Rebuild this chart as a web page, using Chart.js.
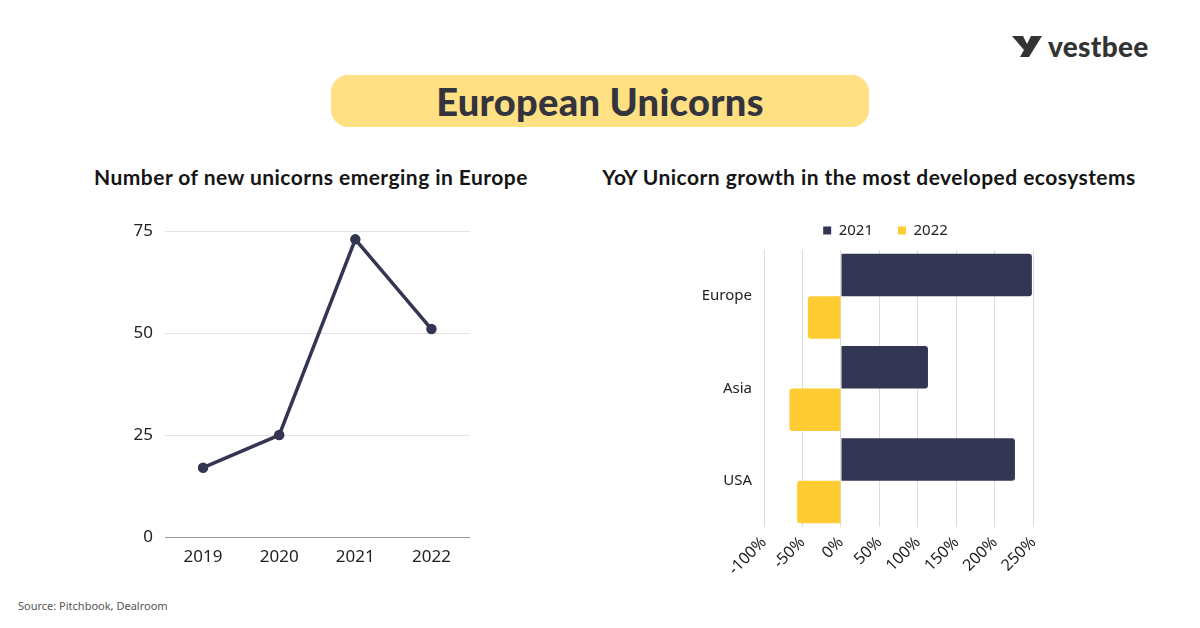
<!DOCTYPE html>
<html>
<head>
<meta charset="utf-8">
<script src="https://cdn.jsdelivr.net/npm/chart.js@4"></script>
<style>
  body { margin: 0; width: 1200px; height: 628px; background: #fff; position: relative; overflow: hidden; font-family: Lato, sans-serif; }
  .title-box { position: absolute; left: 331px; top: 75px; width: 538px; height: 52px; background: #ffe083; border-radius: 17px;
    display: flex; align-items: center; justify-content: center; font-weight: 900; font-size: 38px; letter-spacing: 0.3px; color: #33343d; }
  .sub { position: absolute; top: 164px; font-weight: 700; font-size: 21px; letter-spacing: 0.45px; color: #151515; text-align: center; white-space: nowrap; }
  .logo { position: absolute; left: 1012px; top: 29px; display: flex; align-items: center; color: #333; }
  .logo span { font-weight: 900; font-size: 28px; margin-left: 6px; letter-spacing: 0.3px; }
  .source { position: absolute; left: 18px; top: 598px; font-size: 11px; color: #555; font-family: "Noto Sans", sans-serif; }
  .box { position: absolute; }
</style>
</head>
<body>
<div class="logo">
  <svg width="30" height="22" viewBox="0 0 30 22"><polygon points="0,1 11,1 15,9 19,1 30,1 17,22 8,22 12,15" fill="#333"/></svg>
  <span>vestbee</span>
</div>
<div class="title-box">European Unicorns</div>
<div class="sub" style="left:61px;width:500px;">Number of new unicorns emerging in Europe</div>
<div class="sub" style="left:569px;width:600px;">YoY Unicorn growth in the most developed ecosystems</div>

<div class="box" style="left:120px;top:209px;width:357px;height:363px;"><canvas id="line-chart"></canvas></div>
<div class="box" style="left:680px;top:200px;width:373px;height:385px;"><canvas id="bar-chart"></canvas></div>

<div class="source">Source: Pitchbook, Dealroom</div>

<script>
'use strict';

// ******** DATA *******
let years = ['2019', '2020', '2021', '2022'];
let newUnicorns = [17, 25, 73, 51];
let lineTicks = [0, 25, 50, 75];

let regions = ['Europe', 'Asia', 'USA'];
let growth2021 = [248, 113, 226];
let growth2022 = [-43, -67, -57];
let growthTicks = [-100, -50, 0, 50, 100, 150, 200, 250];

// colours
let navy = '#333652';
let yellow = '#ffcc33';
let tickFont = { family: 'Noto Sans', size: 16 };

// ******** LINE CHART *******
let lineCtx = document.getElementById('line-chart');
new Chart(lineCtx, {
  type: 'line',
  data: {
    labels: years,
    datasets: [{
      data: newUnicorns,
      borderColor: navy,
      backgroundColor: navy,
      borderWidth: 3.5,
      pointRadius: 3.5,
      tension: 0
    }]
  },
  options: {
    responsive: true,
    maintainAspectRatio: false,
    animation: false,
    plugins: { legend: { display: false }, tooltip: { enabled: false } },
    scales: {
      x: {
        offset: true,
        grid: { display: false },
        border: { color: '#999', width: 1 },
        ticks: { color: '#222', font: { family: 'Noto Sans', size: 17 }, padding: 2 },
        afterFit: function(scale) { scale.height = 35; }
      },
      y: {
        min: 0,
        max: 75,
        afterBuildTicks: function(scale) { scale.ticks = lineTicks.map(v => ({ value: v })); },
        grid: { color: '#e3e3e3', drawTicks: false },
        border: { display: false },
        ticks: { color: '#222', font: { family: 'Noto Sans', size: 17 }, padding: 12 },
        afterFit: function(scale) { scale.width = 45; }
      }
    }
  }
});

// ******** BAR CHART *******

// nudges the legend to the right so it sits over the plot like the original
let legendShift = {
  id: 'legendShift',
  afterLayout: function(chart) {
    chart.legend.left += 28;
    chart.legend.right += 28;
    chart.legend.top -= 2;
    chart.legend.bottom -= 2;
  }
};

let barCtx = document.getElementById('bar-chart');
new Chart(barCtx, {
  type: 'bar',
  data: {
    labels: regions,
    datasets: [{
      label: '2021',
      data: growth2021,
      backgroundColor: navy,
      borderRadius: 3,
      categoryPercentage: 0.92,
      barPercentage: 1
    },
    {
      label: '2022',
      data: growth2022,
      backgroundColor: yellow,
      borderRadius: 3,
      categoryPercentage: 0.92,
      barPercentage: 1
    }]
  },
  options: {
    indexAxis: 'y',
    responsive: true,
    maintainAspectRatio: false,
    animation: false,
    layout: { padding: { right: 18 } },
    plugins: {
      tooltip: { enabled: false },
      legend: {
        position: 'top',
        labels: {
          usePointStyle: true,
          pointStyle: 'rect',
          boxWidth: 8,
          boxHeight: 8,
          padding: 25,
          color: '#222',
          font: { family: 'Noto Sans', size: 15 }
        }
      }
    },
    scales: {
      x: {
        min: -100,
        max: 250,
        afterBuildTicks: function(scale) { scale.ticks = growthTicks.map(v => ({ value: v })); },
        grid: { color: '#dcdcdc', drawTicks: false },
        border: { display: false },
        ticks: {
          color: '#222',
          font: tickFont,
          minRotation: 45,
          maxRotation: 45,
          padding: 6,
          callback: function(value) { return value + '%'; }
        },
        afterFit: function(scale) { scale.height = 58; }
      },
      y: {
        grid: { display: false },
        border: { display: false },
        ticks: { color: '#222', font: { family: 'Noto Sans', size: 15 }, padding: 4 },
        afterFit: function(scale) { scale.width = 84; }
      }
    }
  },
  plugins: [legendShift]
});
</script>
</body>
</html>
